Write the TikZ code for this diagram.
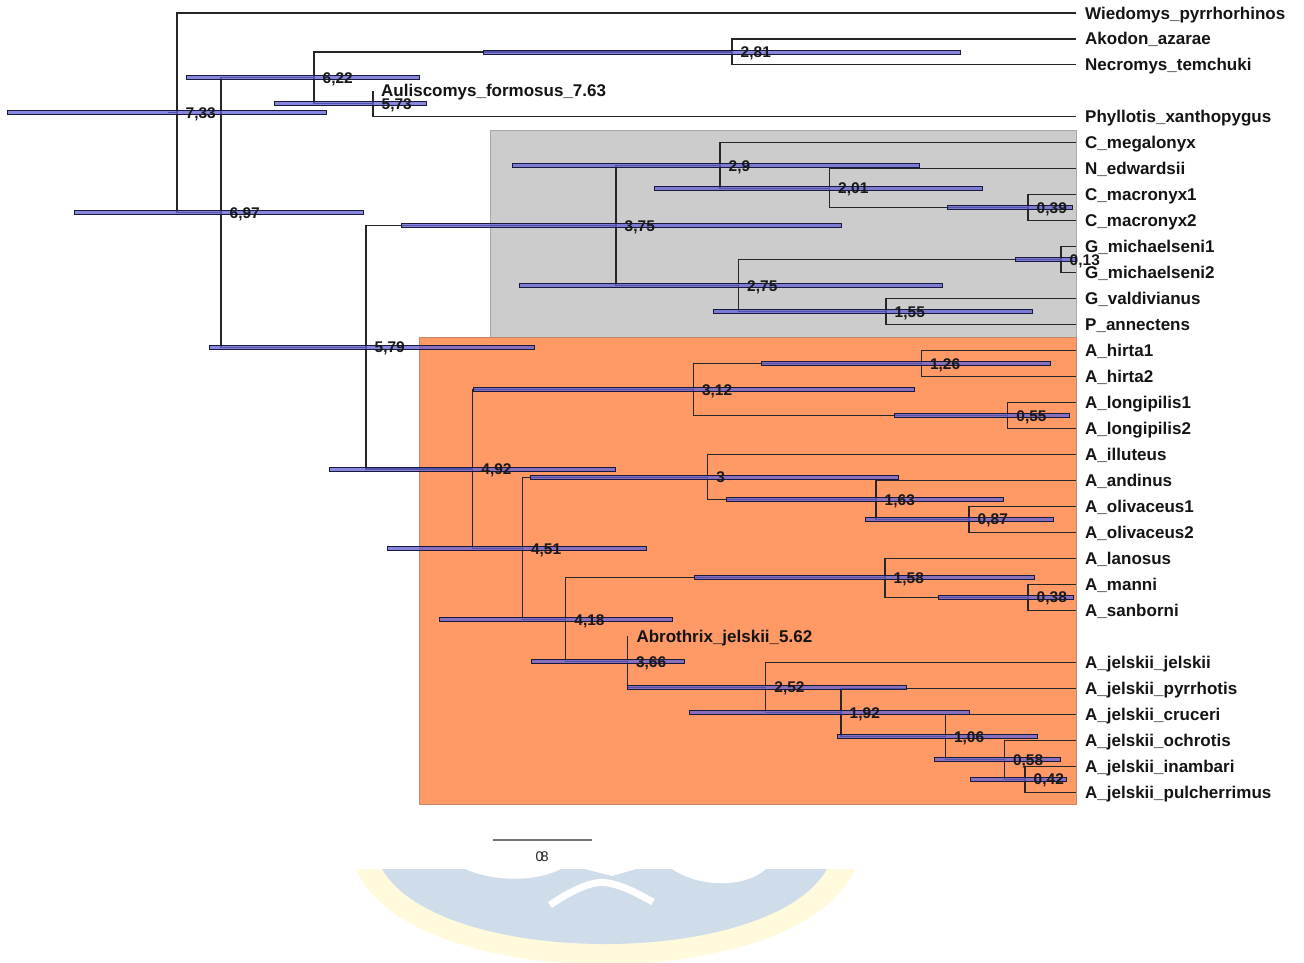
\documentclass[tikz,border=0pt]{standalone}
\usepackage{fontspec}
\setmainfont{Liberation Sans}
\usetikzlibrary{calc}
\definecolor{boxgray}{HTML}{CCCCCC}
\definecolor{boxgrayedge}{HTML}{A8A8A8}
\definecolor{boxorange}{HTML}{FF9966}
\definecolor{boxorangeedge}{HTML}{C8866A}
\definecolor{hpdfill}{RGB}{98,98,214}
\definecolor{hpdedge}{RGB}{25,25,60}
\definecolor{wmblue}{HTML}{CFDCEA}
\definecolor{wmyellow}{HTML}{FFFADC}
\tikzset{
  br/.style={draw=black!85, line width=1.1pt},
  hpd/.style={fill=hpdfill, fill opacity=0.76, draw=hpdedge, line width=0.9pt},
  nlab/.style={font=\bfseries\fontsize{15.5}{15.5}\selectfont, anchor=base west, inner sep=0pt, text=black!90},
  tlab/.style={font=\bfseries\fontsize{17}{17}\selectfont, anchor=base west, inner sep=0pt, text=black!92},
}
\newcommand\hpdbar[3]{\draw[hpd] (#2,#1-2) rectangle (#3,#1+2);}
\begin{document}
\begin{tikzpicture}[x=1pt,y=-1pt]
\useasboundingbox[fill=white] (0,0) rectangle (1304,962);
% watermark
\fill[wmyellow] (356,869) .. controls (410,996) and (800,996) .. (855,869) -- cycle;
\fill[wmblue] (382,869) .. controls (440,969) and (770,969) .. (827,869) -- cycle;
\fill[white] (465,869) .. controls (495,882) and (535,882) .. (561,869) -- cycle;
\fill[white] (672,869) .. controls (700,888) and (745,888) .. (766,869) -- cycle;
\fill[white] (585,869) -- (636,869) -- (612,876) -- cycle;
\draw[white, line width=7pt] (550,905) .. controls (575,888) and (595,880) .. (608,883) .. controls (625,886) and (640,895) .. (653,902);
% clade boxes
\filldraw[fill=boxgray, draw=boxgrayedge, line width=1pt] (490.5,130) rectangle (1076,337);
\filldraw[fill=boxorange, draw=boxorangeedge, line width=1pt] (419,337) rectangle (1076,804);
% tips
\foreach \k/\nm in {0/Wiedomys\_pyrrhorhinos, 1/Akodon\_azarae, 2/Necromys\_temchuki,
  4/Phyllotis\_xanthopygus, 5/C\_megalonyx, 6/N\_edwardsii, 7/C\_macronyx1, 8/C\_macronyx2,
  9/G\_michaelseni1, 10/G\_michaelseni2, 11/G\_valdivianus, 12/P\_annectens,
  13/A\_hirta1, 14/A\_hirta2, 15/A\_longipilis1, 16/A\_longipilis2, 17/A\_illuteus,
  18/A\_andinus, 19/A\_olivaceus1, 20/A\_olivaceus2, 21/A\_lanosus, 22/A\_manni,
  23/A\_sanborni, 25/A\_jelskii\_jelskii, 26/A\_jelskii\_pyrrhotis, 27/A\_jelskii\_cruceri,
  28/A\_jelskii\_ochrotis, 29/A\_jelskii\_inambari, 30/A\_jelskii\_pulcherrimus}{
  \coordinate (t\k) at (1076,13+25.97*\k);
}
\coordinate (t3) at (373,90.91);
\coordinate (t24) at (627.3,636.28);
% internal nodes
\coordinate (root) at (177,112.8);
\coordinate (rs) at (167.5,112.8);
\coordinate (n697) at (221,212.6);
\coordinate (n622) at (314,77.9);
\coordinate (n281) at (732,51.96);
\coordinate (n573) at (373,103.9);
\coordinate (n579) at (366,347.3);
\coordinate (n375) at (616,225.6);
\coordinate (n29) at (720,165.6);
\coordinate (n201) at (829.5,188.3);
\coordinate (n039) at (1028,207.8);
\coordinate (n275) at (738.5,285.7);
\coordinate (n013) at (1061,259.7);
\coordinate (n155) at (886,311.7);
\coordinate (n492) at (472.7,469.0);
\coordinate (n312) at (693.3,389.6);
\coordinate (n126) at (921.3,363.6);
\coordinate (n055) at (1007.7,415.5);
\coordinate (n451) at (522.3,548.5);
\coordinate (n3) at (707.7,477.2);
\coordinate (n163) at (876,499.9);
\coordinate (n087) at (969,519.4);
\coordinate (n418) at (565.7,619.8);
\coordinate (n158) at (885,577.8);
\coordinate (n038) at (1028,597.3);
\coordinate (n366) at (627.3,661.9);
\coordinate (n252) at (765.7,687.4);
\coordinate (n192) at (841,712.6);
\coordinate (n106) at (945.3,736.9);
\coordinate (n058) at (1004.3,759.6);
\coordinate (n042) at (1025,779.1);
% branches
\draw[br] (rs) -- (root);
\foreach \p/\c in {root/t0, root/n697, n697/n622, n697/n579, n622/n281, n622/n573,
  n281/t1, n281/t2, n573/t3, n573/t4, n579/n375, n579/n492, n375/n29, n375/n275,
  n29/t5, n29/n201, n201/t6, n201/n039, n039/t7, n039/t8, n275/n013, n275/n155,
  n013/t9, n013/t10, n155/t11, n155/t12, n492/n312, n492/n451, n312/n126, n312/n055,
  n126/t13, n126/t14, n055/t15, n055/t16, n451/n3, n451/n418, n3/t17, n3/n163,
  n163/t18, n163/n087, n087/t19, n087/t20, n418/n158, n418/n366, n158/t21, n158/n038,
  n038/t22, n038/t23, n366/t24, n366/n252, n252/t25, n252/n192, n192/t26, n192/n106,
  n106/t27, n106/n058, n058/t28, n058/n042, n042/t29, n042/t30}{
  \draw[br] (\p) |- (\c);
}
% HPD bars
\hpdbar{112.8}{7.5}{326}
\hpdbar{212.6}{74.6}{363}
\hpdbar{77.9}{186}{419.6}
\hpdbar{51.96}{483}{960.7}
\hpdbar{103.9}{274.5}{426}
\hpdbar{347.3}{209}{534.3}
\hpdbar{225.6}{401}{841}
\hpdbar{165.6}{512.4}{919.4}
\hpdbar{188.3}{654}{982}
\hpdbar{207.8}{947}{1072}
\hpdbar{285.7}{519}{942}
\hpdbar{259.7}{1015}{1075}
\hpdbar{311.7}{713.4}{1032}
\hpdbar{469.0}{329.3}{615}
\hpdbar{389.6}{473.3}{914}
\hpdbar{363.6}{761}{1050}
\hpdbar{415.5}{894.3}{1069}
\hpdbar{548.5}{387.3}{646.7}
\hpdbar{477.2}{530}{898.3}
\hpdbar{499.9}{726}{1003}
\hpdbar{519.4}{865.7}{1053.3}
\hpdbar{619.8}{439.3}{672.7}
\hpdbar{577.8}{694.3}{1034}
\hpdbar{597.3}{938.3}{1073.7}
\hpdbar{661.9}{531.7}{684.3}
\hpdbar{687.4}{627}{906}
\hpdbar{712.6}{689}{969.7}
\hpdbar{736.9}{837.7}{1037.7}
\hpdbar{759.6}{934.3}{1060.3}
\hpdbar{779.1}{970.7}{1066.7}
% node labels
\foreach \n/\v in {root/{7,33}, n697/{6,97}, n622/{6,22}, n281/{2,81}, n573/{5,73},
  n579/{5,79}, n375/{3,75}, n29/{2,9}, n201/{2,01}, n039/{0,39}, n275/{2,75},
  n013/{0,13}, n155/{1,55}, n492/{4,92}, n312/{3,12}, n126/{1,26}, n055/{0,55},
  n451/{4,51}, n3/{3}, n163/{1,63}, n087/{0,87}, n418/{4,18}, n158/{1,58},
  n038/{0,38}, n366/{3,66}, n252/{2,52}, n192/{1,92}, n106/{1,06}, n058/{0,58}, n042/{0,42}}{
  \node[nlab] (lab-\n) at ([xshift=8.5pt,yshift=-5.5pt]\n) {\v};
}
% tip labels
\foreach \k/\nm in {0/Wiedomys\_pyrrhorhinos, 1/Akodon\_azarae, 2/Necromys\_temchuki,
  4/Phyllotis\_xanthopygus, 5/C\_megalonyx, 6/N\_edwardsii, 7/C\_macronyx1, 8/C\_macronyx2,
  9/G\_michaelseni1, 10/G\_michaelseni2, 11/G\_valdivianus, 12/P\_annectens,
  13/A\_hirta1, 14/A\_hirta2, 15/A\_longipilis1, 16/A\_longipilis2, 17/A\_illuteus,
  18/A\_andinus, 19/A\_olivaceus1, 20/A\_olivaceus2, 21/A\_lanosus, 22/A\_manni,
  23/A\_sanborni, 25/A\_jelskii\_jelskii, 26/A\_jelskii\_pyrrhotis, 27/A\_jelskii\_cruceri,
  28/A\_jelskii\_ochrotis, 29/A\_jelskii\_inambari, 30/A\_jelskii\_pulcherrimus}{
  \node[tlab] (l\k) at ([xshift=9pt,yshift=-6pt]t\k) {\nm};
}
\node[tlab] (l3) at ([xshift=8pt,yshift=-6pt]t3) {Auliscomys\_formosus\_7.63};
\node[tlab] (l24) at ([xshift=9pt,yshift=-6.5pt]t24) {Abrothrix\_jelskii\_5.62};
% scale bar
\coordinate (sb1) at (492.5,840);
\coordinate (sb2) at (591.8,840);
\coordinate (sbm) at (542.2,840);
\draw[draw=black!55, line width=1.4pt] (sb1) -- (sb2);
\node[font=\fontsize{14}{14}\selectfont, text=black!85, inner sep=0pt, anchor=base] (sblab) at ([yshift=-21pt]sbm) {0\kern-2.5pt8};
\end{tikzpicture}
\end{document}
